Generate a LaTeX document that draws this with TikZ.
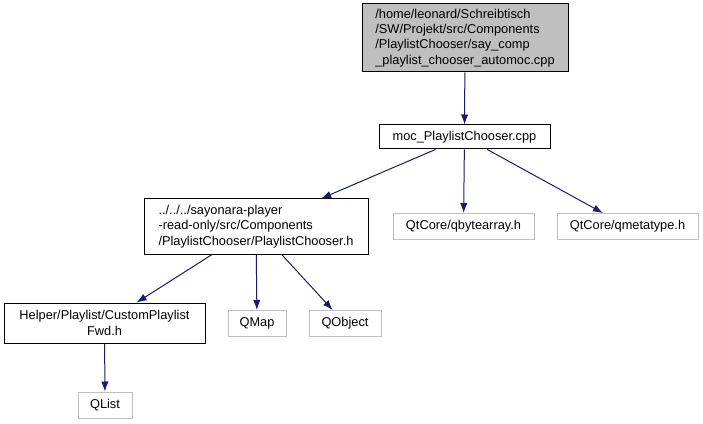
\documentclass[tikz,border=0pt]{standalone}
\usepackage{fontspec}
\setmainfont{Liberation Sans}
\usetikzlibrary{arrows.meta}
\definecolor{edgeblue}{HTML}{191970}
\definecolor{grey75}{HTML}{BFBFBF}

\begin{document}
\begin{tikzpicture}[x=0.75pt, y=-0.75pt, auto]
\tikzstyle{block} = [draw, rectangle, line width=0.75pt, inner sep=2pt, font=\fontsize{9.6}{11.5}\selectfont, minimum height=19.5pt]
\tikzstyle{ext} = [block, draw=grey75]
\tikzstyle{line} = [draw=edgeblue, line width=0.75pt, -{Latex[length=7.5pt,width=5.5pt]}]

\useasboundingbox (0,0) rectangle (703,424);

\node [block, fill=grey75, align=left, minimum width=154.5pt, minimum height=51pt] (src) at (465,38) {/home/leonard/Schreibtisch\\/SW/Projekt/src/Components\\/PlaylistChooser/say\_comp\\\_playlist\_chooser\_automoc.cpp};
\node [block, minimum width=128.25pt, minimum height=18pt] (moc) at (464.5,137) {moc\_PlaylistChooser.cpp};
\node [block, align=left, minimum width=168pt, minimum height=41.25pt] (chooser) at (256,226.5) {../../../sayonara-player\\-read-only/src/Components\\/PlaylistChooser/PlaylistChooser.h};
\node [ext, minimum width=105.75pt] (bytearray) at (463.5,226.5) {QtCore/qbytearray.h};
\node [ext, minimum width=105.75pt] (metatype) at (627.5,226.5) {QtCore/qmetatype.h};
\node [block, align=center, minimum width=150.75pt, minimum height=30pt] (fwd) at (104.5,323) {Helper/Playlist/CustomPlaylist\\Fwd.h};
\node [ext, minimum width=43.5pt] (qmap) at (257,323.5) {QMap};
\node [ext, minimum width=54pt] (qobject) at (345,323.5) {QObject};
\node [ext, minimum width=40.5pt] (qlist) at (105,405) {QList};

\path [line] (src) -- (moc);
\path [line] (moc) -- (chooser);
\path [line] (moc) -- (bytearray);
\path [line] (moc) -- (metatype);
\path [line] (chooser) -- (fwd);
\path [line] (chooser) -- (qmap);
\path [line] (chooser) -- (qobject);
\path [line] (fwd) -- (qlist);

\end{tikzpicture}
\end{document}
